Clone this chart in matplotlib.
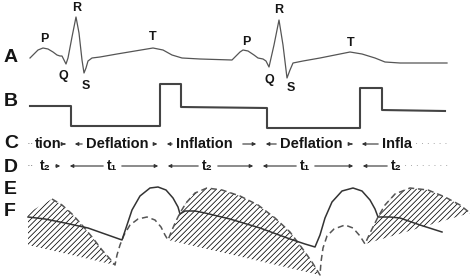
import numpy as np
import matplotlib
matplotlib.use("Agg")
from matplotlib import pyplot as plt
from matplotlib.patches import Polygon, FancyArrowPatch

plt.rcParams['font.family'] = ['Liberation Sans', 'DejaVu Sans']

# ---- traced data (pixel space of the original figure, y downwards) ----
# A: ECG trace
ecg_x = [30, 34, 38, 43, 48, 53, 57, 60, 62, 64, 66, 68, 72, 76, 79, 82, 84, 86, 88, 92,
         100, 117, 135, 153, 163, 172, 182, 200, 232, 236, 240, 243, 248, 254, 258, 263,
         266, 269, 274, 279, 283, 287, 290, 293, 303, 320, 335, 350, 362, 375, 385, 400, 447]
ecg_y = [58, 54, 50, 48, 49, 52, 55, 56, 56, 60, 64, 58, 37, 17, 33, 60, 73, 68, 61, 58,
         57, 54, 51, 48, 50, 55, 58, 59, 60, 56, 52, 50, 51, 55, 58, 59,
         61, 67, 45, 20, 45, 78, 70, 63, 61, 58, 55, 52, 54, 58, 62, 63, 63]
wave_labels = ["P", "Q", "R", "S", "T", "P", "Q", "R", "S", "T"]
wave_lx = [44, 63, 77, 86, 153, 246, 269, 279, 291, 351]
wave_ly = [39, 76, 8, 86, 37, 42, 80, 10, 88, 43]

# B: balloon pressure (square wave)
bal_x = [30, 71, 71, 160, 160, 181, 181, 267, 267, 360, 360, 382, 382, 445]
bal_y = [106, 106, 126, 126, 84, 84, 107, 108, 128, 128, 88, 88, 110, 111]

# C / D rows
c_words = ["tion", "Deflation", "Inflation", "Deflation", "Infla"]
c_left = [35, 86, 176, 280, 382]
c_right = [60, 150, 238, 347, 413]
c_meet = [70, 162, 261, 357]
d_words = ["t\u2082", "t\u2081", "t\u2082", "t\u2081", "t\u2082"]
d_left = [40, 107, 202, 300, 391]
d_right = [51, 117, 213, 310, 402]
d_meet = [65, 163, 258, 358]

# E: solid pressure curve
e_x = [28, 45, 65, 88, 105, 122, 126, 132, 140, 150, 158, 166, 173, 178, 180, 185, 195,
       205, 230, 260, 290, 305, 315, 320, 325, 332, 342, 353, 362, 370, 375, 378, 390,
       400, 420, 442]
e_y = [217, 219, 223, 228, 234, 240, 228, 210, 196, 188, 187, 190, 198, 207, 214, 211, 211,
       213, 219, 228, 239, 244, 247, 235, 218, 202, 191, 188, 191, 200, 209, 217, 217,
       218, 225, 232]

# F: dashed pressure curve
f_x = [52, 62, 72, 82, 92, 102, 110, 115, 117, 120, 124, 130, 138, 147, 155, 161, 165, 168,
       172, 176, 180, 186, 195, 207, 222, 240, 258, 275, 290, 302, 312, 320, 321, 323, 327,
       334, 345, 353, 360, 365, 370, 375, 378, 385, 395, 410, 428, 445, 460, 470]
f_y = [199, 205, 214, 225, 237, 250, 259, 265, 255, 245, 235, 225, 219, 217, 220, 227, 235, 240,
       230, 221, 213, 203, 193, 188, 190, 196, 205, 218, 232, 248, 262, 275, 262, 248, 236,
       229, 225, 228, 236, 244, 233, 223, 217, 205, 194, 188, 190, 197, 205, 213]

# hatched areas: index ranges of F plus closing corners
hatch_ranges = [(0, 8), (17, 32), (39, 50)]
hatch_extra = [[(28, 245), (28, 213)], [], []]

ink = "#151515"
line_col = "#555555"

fig = plt.figure(figsize=(4.72, 2.79), dpi=100)
ax = fig.add_axes([0, 0, 1, 1])
ax.set_xlim(0, 472)
ax.set_ylim(279, 0)
ax.axis("off")

# row letters
for lab, y in zip("ABCDEF", [58, 101, 143, 167, 190, 212]):
    ax.text(4, y, lab, fontsize=14, fontweight="bold", color=ink, ha="left", va="center")

# A
ax.plot(ecg_x, ecg_y, color=line_col, lw=0.9)
for lab, x, y in zip(wave_labels, wave_lx, wave_ly):
    ax.text(x, y, lab, fontsize=9, fontweight="bold", color=ink, ha="center", va="center")

# B
ax.plot(bal_x, bal_y, color="#444444", lw=1.5)


def arrow_row(y, words, left, right, meet, size, dots):
    ax.text(27, y, "\u00b7\u00b7", fontsize=8, color="#666666", ha="left", va="center")
    for w, l in zip(words, left):
        ax.text(l, y, w, fontsize=size, fontweight="bold", color=ink, ha="left", va="center")
    for i, m in enumerate(meet):
        for x0, x1 in [(right[i] + 2, m - 2), (left[i + 1] - 1, m + 2)]:
            ax.add_patch(FancyArrowPatch((x0, y), (x1, y), arrowstyle="-|>",
                                         mutation_scale=5, lw=0.8, color="#333333"))
    ax.text(right[-1] + 2, y, dots, fontsize=7, color="#888888", ha="left", va="center")


arrow_row(144, c_words, c_left, c_right, c_meet, 10.5, "\u00b7 \u00b7 \u00b7 \u00b7 \u00b7 \u00b7")
arrow_row(166, d_words, d_left, d_right, d_meet, 10, "\u00b7 \u00b7 \u00b7 \u00b7 \u00b7 \u00b7 \u00b7 \u00b7")

# hatched regions under F
plt.rcParams['hatch.color'] = "#8a8a8a"
plt.rcParams['hatch.linewidth'] = 0.55
for (i0, i1), extra in zip(hatch_ranges, hatch_extra):
    pts = list(zip(f_x[i0:i1], f_y[i0:i1])) + extra
    ax.add_patch(Polygon(pts, closed=True, fill=False, hatch="//////", lw=0))

# E and F
ax.plot(f_x, f_y, color="#555555", lw=1.1, ls=(0, (4, 2.5)))
ax.plot(e_x, e_y, color="#333333", lw=1.1)

fig.savefig("out.png", dpi=100)
